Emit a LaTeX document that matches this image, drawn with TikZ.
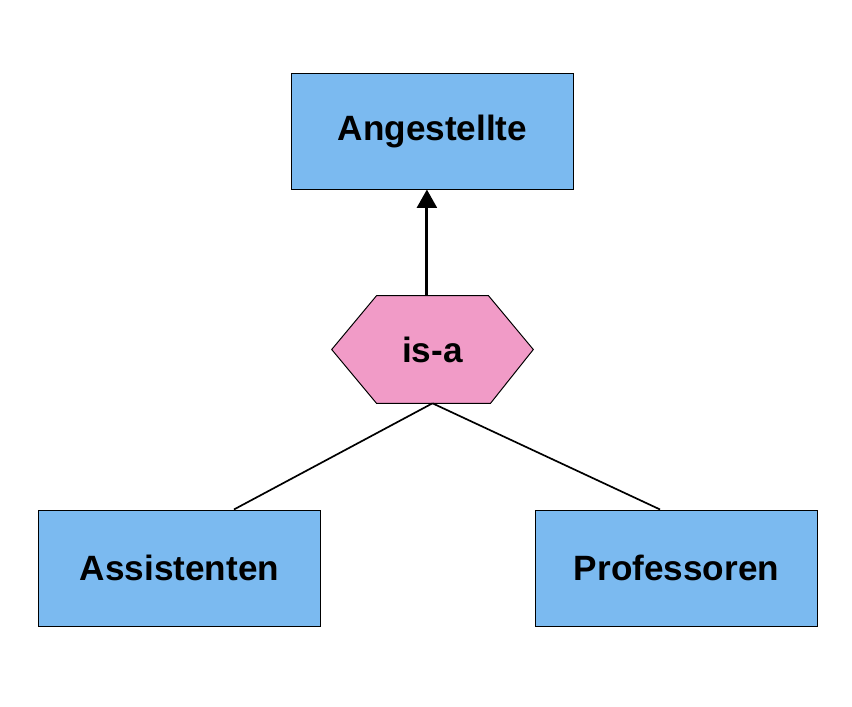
\documentclass[tikz,border=0pt]{standalone}
\usepackage{fontspec}
\setmainfont{Liberation Sans}
\usepackage{tikz}
\usetikzlibrary{arrows.meta,positioning,calc}
\definecolor{entblue}{RGB}{123,186,240}
\definecolor{relpink}{RGB}{241,155,199}

\begin{document}
\begin{tikzpicture}[x=0.025cm,y=-0.025cm,font=\fontsize{25}{30}\selectfont\bfseries,
  e/.style={draw,line width=0.7pt,fill=entblue,minimum width=7.025cm,minimum height=2.9cm,inner sep=0pt},
  h/.style={minimum width=5.025cm,minimum height=2.675cm,inner sep=0pt},
  arr/.style={-{Triangle[length=13pt,width=14pt]},line width=2.1pt},
  ln/.style={line width=1.2pt}]
\useasboundingbox (0,0) rectangle (852,706);
\node[e] (ang) at (432.5,131) {Angestellte};
\node[e] (ass) at (179.5,568) {Assistenten};
\node[e] (prof) at (676.5,568) {Professoren};
% is-a hexagon
\node[h] (isa) at (432.5,349.5) {};
\draw[line width=0.7pt,fill=relpink] (isa.west) -- ($(isa.north)+(-56,0)$) -- ($(isa.north)+(56,0)$)
  -- (isa.east) -- ($(isa.south)+(58,0)$) -- ($(isa.south)+(-56,0)$) -- cycle;
\node at (isa) {is-a};
\draw[arr] ([xshift=-0.14cm]isa.north) -- ([xshift=-0.14cm]ang.south);
\draw[ln] (isa.south) -- ([xshift=1.36cm]ass.north);
\draw[ln] (isa.south) -- ([xshift=-0.41cm]prof.north);
\end{tikzpicture}
\end{document}
